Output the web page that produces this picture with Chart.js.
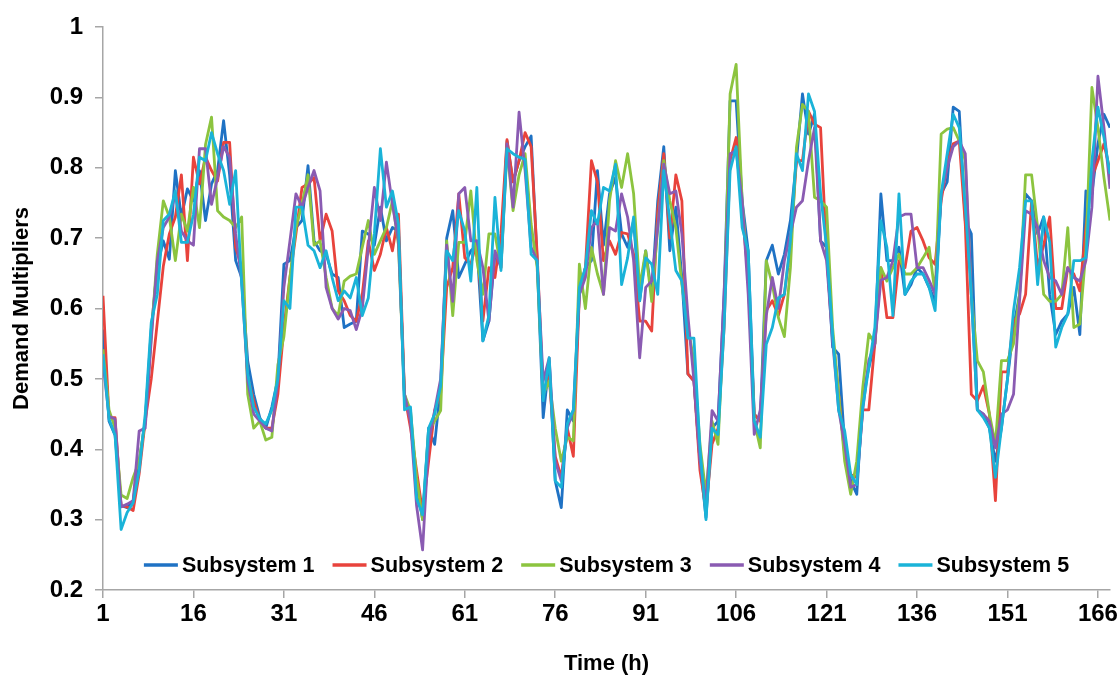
<!DOCTYPE html>
<html>
<head>
<meta charset="utf-8">
<title>Demand Multipliers</title>
<script src="https://cdn.jsdelivr.net/npm/chart.js@4.4.1/dist/chart.umd.min.js"></script>
<style>
  html, body { margin: 0; padding: 0; background: #fff; }
  #wrap { position: relative; width: 1118px; height: 675px; }
</style>
</head>
<body>
<div id="wrap"><canvas id="demandChart"></canvas></div>
<script>
const hours = Array.from({ length: 168 }, (_, i) => i + 1);
const xTicks = [1, 16, 31, 46, 61, 76, 91, 106, 121, 136, 151, 166];
const yTicks = [0.2, 0.3, 0.4, 0.5, 0.6, 0.7, 0.8, 0.9, 1];

const seriesNames = ['Subsystem 1', 'Subsystem 2', 'Subsystem 3', 'Subsystem 4', 'Subsystem 5'];
const seriesColors = ['#1f72c4', '#e8433c', '#8cc43f', '#8a5bb2', '#1ab3d8'];

const subsystem1 = [
  0.57, 0.44, 0.42, 0.32, 0.317, 0.327, 0.383, 0.44, 0.57, 0.66, 0.696, 0.67,
  0.796, 0.73, 0.77, 0.753, 0.796, 0.725, 0.777, 0.796, 0.867, 0.79, 0.668, 0.644,
  0.525, 0.478, 0.445, 0.43, 0.46, 0.5, 0.663, 0.668, 0.715, 0.725, 0.803, 0.696,
  0.682, 0.677, 0.649, 0.644, 0.573, 0.578, 0.582, 0.71, 0.706, 0.69, 0.744, 0.696,
  0.715, 0.71, 0.469, 0.45, 0.35, 0.3, 0.43, 0.407, 0.49, 0.7, 0.739, 0.644,
  0.663, 0.682, 0.69, 0.554, 0.582, 0.677, 0.668, 0.838, 0.78, 0.81, 0.83, 0.845,
  0.668, 0.445, 0.525, 0.355, 0.317, 0.456, 0.44, 0.62, 0.658, 0.668, 0.796, 0.69,
  0.763, 0.786, 0.706, 0.687, 0.725, 0.611, 0.682, 0.62, 0.753, 0.83, 0.682, 0.744,
  0.644, 0.507, 0.497, 0.383, 0.303, 0.43, 0.44, 0.62, 0.895, 0.895, 0.753, 0.682,
  0.45, 0.44, 0.668, 0.69, 0.649, 0.677, 0.725, 0.81, 0.905, 0.848, 0.876, 0.696,
  0.687, 0.545, 0.535, 0.407, 0.355, 0.336, 0.474, 0.516, 0.55, 0.763, 0.668, 0.668,
  0.687, 0.62, 0.634, 0.658, 0.649, 0.63, 0.611, 0.763, 0.78, 0.886, 0.88, 0.725,
  0.706, 0.456, 0.45, 0.43, 0.383, 0.43, 0.5, 0.573, 0.62, 0.763, 0.753, 0.706,
  0.73, 0.62, 0.563, 0.582, 0.592, 0.63, 0.563, 0.767, 0.763, 0.834, 0.876, 0.857,
];

const subsystem2 = [
  0.618, 0.445, 0.445, 0.32, 0.318, 0.313, 0.365, 0.44, 0.5, 0.58, 0.66, 0.706,
  0.73, 0.79, 0.668, 0.815, 0.777, 0.815, 0.796, 0.781, 0.836, 0.836, 0.687, 0.658,
  0.502, 0.469, 0.44, 0.43, 0.43, 0.478, 0.573, 0.644, 0.706, 0.772, 0.777, 0.786,
  0.696, 0.734, 0.71, 0.625, 0.611, 0.59, 0.582, 0.62, 0.696, 0.654, 0.677, 0.715,
  0.682, 0.734, 0.478, 0.43, 0.37, 0.31, 0.383, 0.455, 0.48, 0.63, 0.658, 0.763,
  0.672, 0.663, 0.696, 0.582, 0.658, 0.644, 0.706, 0.84, 0.78, 0.81, 0.85, 0.83,
  0.677, 0.478, 0.502, 0.39, 0.36, 0.43, 0.39, 0.62, 0.658, 0.81, 0.78, 0.668,
  0.696, 0.677, 0.708, 0.706, 0.677, 0.582, 0.582, 0.568, 0.739, 0.82, 0.7, 0.79,
  0.753, 0.507, 0.497, 0.37, 0.313, 0.407, 0.43, 0.573, 0.81, 0.843, 0.739, 0.644,
  0.45, 0.44, 0.597, 0.611, 0.59, 0.62, 0.687, 0.81, 0.81, 0.88, 0.862, 0.857,
  0.677, 0.56, 0.478, 0.393, 0.364, 0.36, 0.456, 0.456, 0.55, 0.658, 0.587, 0.587,
  0.668, 0.658, 0.71, 0.715, 0.696, 0.672, 0.663, 0.753, 0.805, 0.834, 0.838, 0.72,
  0.478, 0.469, 0.49, 0.45, 0.327, 0.51, 0.51, 0.582, 0.592, 0.62, 0.753, 0.658,
  0.69, 0.73, 0.6, 0.6, 0.658, 0.649, 0.625, 0.715, 0.786, 0.81, 0.834, 0.796,
];

const subsystem3 = [
  0.542, 0.456, 0.43, 0.335, 0.33, 0.36, 0.383, 0.44, 0.56, 0.677, 0.753, 0.73,
  0.668, 0.734, 0.71, 0.772, 0.715, 0.833, 0.872, 0.739, 0.73, 0.725, 0.715, 0.73,
  0.478, 0.43, 0.44, 0.413, 0.417, 0.52, 0.56, 0.644, 0.715, 0.748, 0.79, 0.69,
  0.696, 0.644, 0.6, 0.59, 0.639, 0.646, 0.649, 0.687, 0.725, 0.677, 0.696, 0.715,
  0.753, 0.69, 0.478, 0.455, 0.36, 0.3, 0.426, 0.44, 0.455, 0.696, 0.59, 0.694,
  0.694, 0.767, 0.668, 0.62, 0.706, 0.706, 0.658, 0.829, 0.739, 0.79, 0.82, 0.72,
  0.658, 0.478, 0.497, 0.43, 0.383, 0.417, 0.412, 0.663, 0.6, 0.687, 0.649, 0.62,
  0.753, 0.81, 0.772, 0.82, 0.763, 0.63, 0.682, 0.61, 0.715, 0.81, 0.753, 0.715,
  0.634, 0.573, 0.526, 0.407, 0.336, 0.44, 0.407, 0.597, 0.905, 0.947, 0.753, 0.644,
  0.44, 0.402, 0.668, 0.634, 0.587, 0.56, 0.658, 0.829, 0.89, 0.88, 0.758, 0.753,
  0.744, 0.573, 0.478, 0.383, 0.336, 0.383, 0.488, 0.564, 0.55, 0.658, 0.639, 0.658,
  0.677, 0.649, 0.649, 0.658, 0.672, 0.687, 0.62, 0.848, 0.855, 0.857, 0.838, 0.81,
  0.62, 0.526, 0.51, 0.45, 0.407, 0.526, 0.526, 0.55, 0.62, 0.79, 0.79, 0.715,
  0.62, 0.61, 0.61, 0.62, 0.715, 0.573, 0.578, 0.682, 0.914, 0.857, 0.786, 0.725,
];

const subsystem4 = [
  0.523, 0.447, 0.443, 0.318, 0.322, 0.327, 0.426, 0.43, 0.555, 0.668, 0.715, 0.73,
  0.763, 0.71, 0.696, 0.69, 0.827, 0.827, 0.748, 0.786, 0.83, 0.815, 0.706, 0.64,
  0.497, 0.45, 0.44, 0.43, 0.426, 0.497, 0.63, 0.696, 0.763, 0.744, 0.772, 0.796,
  0.767, 0.63, 0.6, 0.585, 0.6, 0.597, 0.57, 0.6, 0.687, 0.772, 0.725, 0.808,
  0.748, 0.696, 0.478, 0.44, 0.32, 0.257, 0.41, 0.455, 0.5, 0.69, 0.61, 0.763,
  0.772, 0.696, 0.696, 0.658, 0.582, 0.682, 0.658, 0.834, 0.744, 0.879, 0.796, 0.687,
  0.668, 0.497, 0.53, 0.383, 0.355, 0.43, 0.455, 0.62, 0.644, 0.715, 0.725, 0.62,
  0.715, 0.71, 0.763, 0.73, 0.668, 0.53, 0.63, 0.639, 0.715, 0.805, 0.763, 0.767,
  0.706, 0.59, 0.497, 0.383, 0.322, 0.455, 0.44, 0.62, 0.82, 0.824, 0.753, 0.62,
  0.421, 0.456, 0.59, 0.644, 0.6, 0.668, 0.706, 0.744, 0.753, 0.81, 0.857, 0.696,
  0.668, 0.554, 0.456, 0.407, 0.346, 0.35, 0.456, 0.526, 0.55, 0.64, 0.644, 0.668,
  0.73, 0.734, 0.734, 0.658, 0.658, 0.64, 0.62, 0.763, 0.8, 0.83, 0.838, 0.82,
  0.62, 0.456, 0.45, 0.44, 0.402, 0.45, 0.456, 0.478, 0.611, 0.739, 0.734, 0.715,
  0.668, 0.644, 0.639, 0.62, 0.658, 0.644, 0.639, 0.668, 0.744, 0.93, 0.857, 0.77,
];

const subsystem5 = [
  0.535, 0.443, 0.42, 0.286, 0.31, 0.324, 0.37, 0.45, 0.58, 0.62, 0.725, 0.734,
  0.767, 0.694, 0.694, 0.734, 0.815, 0.81, 0.85, 0.82, 0.796, 0.748, 0.796, 0.634,
  0.507, 0.46, 0.443, 0.436, 0.456, 0.5, 0.611, 0.6, 0.744, 0.744, 0.69, 0.682,
  0.658, 0.682, 0.644, 0.611, 0.625, 0.615, 0.644, 0.59, 0.615, 0.706, 0.827, 0.744,
  0.767, 0.72, 0.456, 0.46, 0.33, 0.307, 0.43, 0.45, 0.49, 0.682, 0.668, 0.739,
  0.71, 0.639, 0.772, 0.554, 0.59, 0.758, 0.654, 0.827, 0.82, 0.815, 0.812, 0.677,
  0.668, 0.469, 0.53, 0.355, 0.346, 0.436, 0.456, 0.63, 0.658, 0.739, 0.72, 0.772,
  0.767, 0.805, 0.634, 0.672, 0.73, 0.611, 0.672, 0.663, 0.62, 0.796, 0.725, 0.654,
  0.639, 0.558, 0.558, 0.402, 0.3, 0.43, 0.421, 0.573, 0.796, 0.83, 0.715, 0.682,
  0.44, 0.417, 0.549, 0.573, 0.615, 0.62, 0.696, 0.82, 0.796, 0.905, 0.88, 0.763,
  0.687, 0.563, 0.455, 0.426, 0.364, 0.35, 0.46, 0.516, 0.573, 0.725, 0.687, 0.59,
  0.763, 0.62, 0.639, 0.649, 0.649, 0.63, 0.597, 0.763, 0.82, 0.876, 0.857, 0.744,
  0.62, 0.456, 0.445, 0.43, 0.36, 0.43, 0.5, 0.597, 0.658, 0.753, 0.753, 0.634,
  0.73, 0.694, 0.545, 0.573, 0.592, 0.668, 0.668, 0.672, 0.81, 0.886, 0.843, 0.791,
];

const seriesValues = [subsystem1, subsystem2, subsystem3, subsystem4, subsystem5];

const FONT_FAMILY = '"Liberation Sans", Arial, Helvetica, sans-serif';
const AXIS_GREY = '#a6a6a6';

// Excel-style legend that sits inside the plot, just above the x axis
const insideLegend = {
  id: 'insideLegend',
  afterDraw(chart) {
    const { ctx, chartArea } = chart;
    const lineLen = 34;
    const gap = 4;
    const spacing = 18;
    ctx.save();
    ctx.font = `bold 21.5px ${FONT_FAMILY}`;
    const items = chart.data.datasets.map(ds => ({
      text: ds.label,
      color: ds.borderColor,
      width: ctx.measureText(ds.label).width,
    }));
    const total = items.reduce((sum, it) => sum + lineLen + gap + it.width, 0) + spacing * (items.length - 1);
    let x = (chartArea.left + chartArea.right) / 2 - total / 2;
    const y = chartArea.bottom - 25;
    ctx.textBaseline = 'middle';
    ctx.textAlign = 'left';
    items.forEach(it => {
      ctx.strokeStyle = it.color;
      ctx.lineWidth = 3.5;
      ctx.beginPath();
      ctx.moveTo(x, y);
      ctx.lineTo(x + lineLen, y);
      ctx.stroke();
      ctx.fillStyle = '#000';
      ctx.fillText(it.text, x + lineLen + gap, y + 1);
      x += lineLen + gap + it.width + spacing;
    });
    ctx.restore();
  },
};

function buildDatasets() {
  return seriesNames.map((name, i) => ({
    label: name,
    data: seriesValues[i],
    borderColor: seriesColors[i],
    backgroundColor: seriesColors[i],
    borderWidth: 2.8,
    borderJoinStyle: 'round',
    pointRadius: 0,
    pointHoverRadius: 0,
    tension: 0,
    fill: false,
    order: seriesNames.length - i,
  }));
}

new Chart(document.getElementById('demandChart'), {
  type: 'line',
  data: { labels: hours, datasets: buildDatasets() },
  options: {
    responsive: true,
    maintainAspectRatio: false,
    animation: false,
    devicePixelRatio: 1,
    layout: { padding: { top: 27, right: 8, bottom: 0, left: 0 } },
    plugins: {
      legend: { display: false },
      tooltip: { enabled: false },
    },
    scales: {
      x: {
        type: 'linear',
        min: 1,
        max: 168,
        afterBuildTicks: scale => { scale.ticks = xTicks.map(v => ({ value: v })); },
        afterFit: scale => {
          scale.height = 85;
          scale.paddingLeft = 0;
          scale.paddingRight = 0;
        },
        border: { display: true, color: AXIS_GREY, width: 1.5 },
        grid: { drawOnChartArea: false, drawTicks: true, tickLength: 8, color: AXIS_GREY, lineWidth: 1.5 },
        ticks: {
          autoSkip: false,
          maxRotation: 0,
          padding: 2,
          color: '#000',
          font: { family: FONT_FAMILY, size: 24, weight: 'bold' },
          callback: value => String(value),
        },
        title: {
          display: true,
          text: 'Time (h)',
          color: '#000',
          padding: { top: 0, bottom: 0 },
          font: { family: FONT_FAMILY, size: 22, weight: 'bold', lineHeight: 1 },
        },
      },
      y: {
        min: 0.2,
        max: 1,
        afterBuildTicks: scale => { scale.ticks = yTicks.map(v => ({ value: v })); },
        afterFit: scale => {
          scale.width = 103;
          scale.paddingTop = 0;
          scale.paddingBottom = 0;
        },
        border: { display: true, color: AXIS_GREY, width: 1.5 },
        grid: { drawOnChartArea: false, drawTicks: true, tickLength: 8, color: AXIS_GREY, lineWidth: 1.5 },
        ticks: {
          padding: 12,
          color: '#000',
          font: { family: FONT_FAMILY, size: 24, weight: 'bold' },
          callback: value => String(Math.round(value * 10) / 10),
        },
        title: {
          display: true,
          text: 'Demand Multipliers',
          color: '#000',
          padding: { top: 11, bottom: 0 },
          font: { family: FONT_FAMILY, size: 22, weight: 'bold', lineHeight: 1 },
        },
      },
    },
  },
  plugins: [insideLegend],
});
</script>
</body>
</html>
